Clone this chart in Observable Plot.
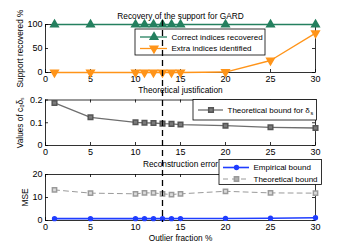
<!DOCTYPE html>
<html><head><meta charset="utf-8">
<script src="https://cdn.jsdelivr.net/npm/d3@7"></script>
<script src="https://cdn.jsdelivr.net/npm/@observablehq/plot@0.6"></script>
<style>
body{margin:0;background:#fff;}
#c{position:relative;width:349px;height:248px;overflow:hidden;background:#fff;}
#c svg{position:absolute;left:0;top:0;}
</style></head><body><div id="c"></div>
<script>
// ---- data ----
const outlierFraction = [1, 5, 10, 11, 12, 13, 14, 15, 20, 25, 30];
const correctRecovered = [100, 100, 100, 100, 100, 100, 100, 100, 100, 100, 100];
const extraIdentified = [0, 0, 0, 0, 0, 0, 0, 0, 1, 25, 82];
const deltaBound = [0.187, 0.124, 0.102, 0.100, 0.099, 0.096, 0.095, 0.092, 0.087, 0.080, 0.077];
const empiricalMSE = [0.8, 0.8, 0.8, 0.8, 0.8, 0.8, 0.8, 0.85, 0.9, 1.0, 1.2];
const theoreticalMSE = [13.3, 11.9, 11.6, 12.0, 12.0, 11.6, 11.3, 11.6, 12.7, 12.0, 11.9];
const thresholdFraction = [13];
const xTicks = [0, 5, 10, 15, 20, 25, 30];
const xTickLabels = ["0", "5", "10", "15", "20", "25", "30"];
const supportTicks = [0, 50, 100];
const supportTickLabels = ["0", "50", "100"];
const deltaTicks = [0, 0.1, 0.2];
const deltaTickLabels = ["0", "0.1", "0.2"];
const mseTicks = [0, 10, 20];
const mseTickLabels = ["0", "10", "20"];

const rows = (ys) => outlierFraction.map((x, i) => ({x, y: ys[i]}));

const W = 349, H = 248, L = 45, R = 34;
const FONT = "'Liberation Sans', Arial, Helvetica, sans-serif";
const GREEN = "#24805f", ORANGE = "#ff9419", GRAY = "#6e6e6e", LGRAY = "#9a9a9a", BLUE = "#1f3dff";
const baseStyle = {fontFamily: FONT, fontSize: "9px", background: "transparent", color: "#000", overflow: "visible"};

function panel({top, bottom, yDomain, yTicks, yLabels, marks}) {
  const fh = H - top - bottom, fw = W - L - R;
  return Plot.plot({
    width: W, height: H, marginLeft: L, marginRight: R, marginTop: top, marginBottom: bottom,
    style: baseStyle,
    x: {domain: [0, 30]},
    y: {domain: yDomain},
    marks: [
      Plot.axisX({ticks: xTicks, tickSize: 0, tickPadding: 3, label: null,
        tickFormat: d => xTickLabels[xTicks.indexOf(d)]}),
      Plot.axisY({ticks: yTicks, tickSize: 0, tickPadding: 3, label: null,
        tickFormat: d => yLabels[yTicks.indexOf(d)]}),
      Plot.ruleX(xTicks, {x: d => d, insetTop: fh - 3, stroke: "#000", strokeWidth: 0.8}),
      Plot.ruleX(xTicks, {x: d => d, insetBottom: fh - 3, stroke: "#000", strokeWidth: 0.8}),
      Plot.ruleY(yTicks, {y: d => d, insetRight: fw - 3, stroke: "#000", strokeWidth: 0.8}),
      Plot.ruleY(yTicks, {y: d => d, insetLeft: fw - 3, stroke: "#000", strokeWidth: 0.8}),
      Plot.frame({stroke: "#000", strokeWidth: 0.8}),
      ...marks
    ]
  });
}

const p1 = panel({top: 24, bottom: H - 72, yDomain: [0, 100], yTicks: supportTicks, yLabels: supportTickLabels, marks: [
  Plot.line(rows(correctRecovered), {x: "x", y: "y", stroke: GREEN, strokeWidth: 1.3}),
  Plot.dot(rows(correctRecovered), {x: "x", y: "y", symbol: "triangle", r: 2.8, fill: GREEN, stroke: GREEN}),
  Plot.line(rows(extraIdentified), {x: "x", y: "y", stroke: ORANGE, strokeWidth: 1.3}),
  Plot.dot(rows(extraIdentified), {x: "x", y: "y", symbol: "triangle", rotate: 180, r: 2.8, fill: ORANGE, stroke: ORANGE})
]});

const p2 = panel({top: 99.5, bottom: H - 145, yDomain: [0, 0.2], yTicks: deltaTicks, yLabels: deltaTickLabels, marks: [
  Plot.line(rows(deltaBound), {x: "x", y: "y", stroke: GRAY, strokeWidth: 1.3}),
  Plot.dot(rows(deltaBound), {x: "x", y: "y", symbol: "square", r: 2.6, fill: "#7a7a7a", stroke: "#555"})
]});

const p3 = panel({top: 174, bottom: H - 220, yDomain: [0, 20], yTicks: mseTicks, yLabels: mseTickLabels, marks: [
  Plot.line(rows(theoreticalMSE), {x: "x", y: "y", stroke: LGRAY, strokeWidth: 1, strokeDasharray: "5,4"}),
  Plot.dot(rows(theoreticalMSE), {x: "x", y: "y", symbol: "square", r: 2.4, fill: "#dcdcdc", stroke: LGRAY}),
  Plot.line(rows(empiricalMSE), {x: "x", y: "y", stroke: BLUE, strokeWidth: 1.6}),
  Plot.dot(rows(empiricalMSE), {x: "x", y: "y", r: 1.9, fill: BLUE, stroke: BLUE})
]});

// legends, titles and axis labels (layout in pixels)
const one = [{}];
function entry(x1, x2, y, color, textStr, symbolOpts, lineOpts = {}) {
  return [
    Plot.ruleY(one, {y: () => y, x1: () => x1, x2: () => x2, stroke: color, strokeWidth: lineOpts.w || 1.3, strokeDasharray: lineOpts.dash}),
    Plot.dot(one, {x: () => (x1 + x2) / 2, y: () => y, stroke: color, ...symbolOpts}),
    Plot.text(one, {x: () => x2 + 4, y: () => y, text: () => textStr, textAnchor: "start", fontSize: 8, fill: "#000"})
  ];
}
const box = (x1, x2, y1, y2) => Plot.rect(one, {x1: () => x1, x2: () => x2, y1: () => y1, y2: () => y2, fill: "white", stroke: "#000", strokeWidth: 0.8});
const label = (x, y, t, rotate = 0, fs = 8.3, anchor = "middle") => Plot.text(one, {x: () => x, y: () => y, text: () => t, rotate, fontSize: fs, fill: "#000", textAnchor: anchor});

const p4 = Plot.plot({
  width: W, height: H, margin: 0, style: baseStyle, axis: null,
  x: {type: "identity", axis: null}, y: {type: "identity", axis: null},
  marks: [
    box(135, 265, 29, 55),
    ...entry(140, 167, 36.5, GREEN, "Correct indices recovered", {symbol: "triangle", r: 2.8, fill: GREEN}),
    ...entry(140, 167, 48, ORANGE, "Extra indices identified", {symbol: "triangle", rotate: 180, r: 2.8, fill: ORANGE}),
    box(193, 316.5, 99.5, 120),
    ...entry(198, 223, 109.5, GRAY, "Theoretical bound for δ", {symbol: "square", r: 2.6, fill: "#7a7a7a", stroke: "#555"}),
    label(310, 112.5, "s", 0, 5.5, "start"),
    box(219, 321.5, 159.5, 184.5),
    ...entry(223, 249, 167, BLUE, "Empirical bound", {r: 1.9, fill: BLUE}, {w: 1.6}),
    ...entry(223, 249, 178.5, LGRAY, "Theoretical bound", {symbol: "square", r: 2.4, fill: "#b0b0b0"}, {w: 1, dash: "5,4"}),
    label(180, 16, "Recovery of the support for GARD"),
    label(180, 90, "Theoretical justification"),
    label(180, 163.5, "Reconstruction error"),
    label(180, 237.5, "Outlier fraction %"),
    label(20, 48, "Support recovered %", -90),
    label(20, 122, "Values of c₀δₛ", -90),
    label(25, 197, "MSE", -90)
  ]
});

const p5 = Plot.plot({
  width: W, height: H, marginLeft: L, marginRight: R, marginTop: 0, marginBottom: 0, style: baseStyle, axis: null,
  x: {domain: [0, 30], axis: null}, y: {type: "identity", axis: null},
  marks: [
    Plot.ruleX(thresholdFraction, {x: d => d, y1: () => 20, y2: () => 222, stroke: "#000", strokeWidth: 1.3, strokeDasharray: "6,4"})
  ]
});

const c = document.getElementById("c");
[p1, p2, p3, p4, p5].forEach(s => c.appendChild(s));
</script></body></html>
